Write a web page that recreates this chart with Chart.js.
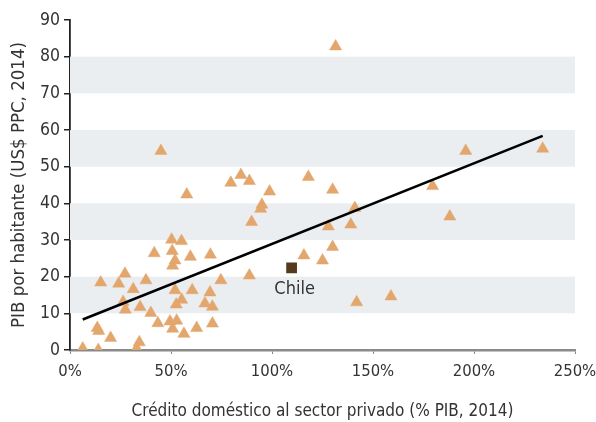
<!DOCTYPE html>
<html>
<head>
<meta charset="utf-8">
<script src="https://cdn.jsdelivr.net/npm/chart.js@4/dist/chart.umd.min.js"></script>
<style>
  html, body { margin: 0; padding: 0; background: #fff; }
  #wrap { width: 596px; height: 422px; position: relative; }
</style>
</head>
<body>
<div id="wrap"><canvas id="c" width="596" height="422"></canvas></div>
<script>
// Private-sector domestic credit (% of GDP, 2014) per country
const creditPct = [
  131.5, 45.0, 57.8, 79.6, 84.6, 88.8, 98.8, 95.0, 94.4, 89.9,
  118.0, 130.0, 141.0, 127.9, 139.0, 130.0, 115.8, 125.0, 88.8, 141.9,
  158.9, 179.5, 195.9, 234.0, 188.0, 50.3, 55.2, 41.7, 50.6, 52.0,
  50.8, 59.6, 69.5, 15.2, 27.2, 24.1, 37.6, 31.3, 26.3, 27.4,
  34.7, 40.0, 43.5, 52.0, 55.3, 52.6, 60.5, 69.3, 74.7, 66.8,
  70.5, 70.5, 62.7, 49.5, 52.8, 50.8, 56.4, 13.5, 14.2, 20.1,
  6.3, 14.0, 34.3, 33.0
];
// GDP per capita (thousand US$ PPP, 2014), same order
const gdpPerCapita = [
  82.8, 54.3, 42.4, 45.6, 47.7, 46.1, 43.2, 39.6, 38.5, 34.9,
  47.2, 43.7, 38.7, 33.7, 34.2, 28.1, 25.8, 24.4, 20.3, 13.0,
  14.6, 44.7, 54.3, 54.9, 36.4, 30.1, 29.7, 26.4, 27.0, 24.4,
  23.0, 25.4, 26.0, 18.4, 20.8, 18.1, 19.0, 16.6, 13.1, 11.0,
  11.7, 10.1, 7.3, 16.3, 13.7, 12.4, 16.3, 15.7, 19.0, 12.7,
  11.8, 7.2, 6.0, 7.8, 8.0, 5.8, 4.4, 6.0, 5.2, 3.3,
  0.4, 0.0, 2.1, 0.4
];
// Highlighted country
const chileName = 'Chile';
const chileCredit = 109.7;
const chileGdp = 22.4;
// Fitted trend line end points
const trendX = [6.3, 234.0];
const trendY = [8.3, 58.4];
// Axis ticks and shaded bands
const xTicks = [0, 50, 100, 150, 200, 250];
const yTicks = [0, 10, 20, 30, 40, 50, 60, 70, 80, 90];
const shadedBands = [[10, 20], [30, 40], [50, 60], [70, 80]];

const FONT = "'DejaVu Sans Condensed', 'Roboto', sans-serif";
const TEXT = '#333333';

const bandsPlugin = {
  id: 'bands',
  beforeDatasetsDraw(chart) {
    const { ctx, chartArea, scales } = chart;
    ctx.save();
    ctx.fillStyle = '#EBEEF1';
    shadedBands.forEach(([lo, hi]) => {
      const y1 = scales.y.getPixelForValue(hi);
      const y2 = scales.y.getPixelForValue(lo);
      ctx.fillRect(chartArea.left, y1, chartArea.right - chartArea.left, y2 - y1);
    });
    ctx.restore();
  }
};

const chileLabel = {
  id: 'chileLabel',
  afterDatasetsDraw(chart) {
    const { ctx, scales } = chart;
    const x = scales.x.getPixelForValue(chileCredit);
    const y = scales.y.getPixelForValue(chileGdp);
    ctx.save();
    ctx.font = '18px ' + FONT;
    ctx.fillStyle = TEXT;
    ctx.textAlign = 'center';
    ctx.textBaseline = 'middle';
    ctx.fillText(chileName, x + 3, y + 21);
    ctx.restore();
  }
};

new Chart(document.getElementById('c'), {
  type: 'scatter',
  data: {
    datasets: [
      {
        type: 'line',
        data: trendX.map((x, i) => ({ x, y: trendY[i] })),
        borderColor: '#000',
        borderWidth: 2.6,
        pointRadius: 0,
        fill: false,
        order: 0
      },
      {
        data: creditPct.map((x, i) => ({ x, y: gdpPerCapita[i] })),
        pointStyle: 'triangle',
        pointRadius: 7,
        backgroundColor: '#E3A66D',
        borderColor: '#E3A66D',
        borderWidth: 0.5,
        order: 1
      },
      {
        data: [{ x: chileCredit, y: chileGdp }],
        pointStyle: 'rect',
        pointRadius: 7.6,
        backgroundColor: '#563A1D',
        borderColor: '#563A1D',
        borderWidth: 0,
        order: 0
      }
    ]
  },
  options: {
    responsive: false,
    animation: false,
    devicePixelRatio: 1,
    layout: { padding: { top: 20, right: 21, left: 0, bottom: 0 } },
    plugins: { legend: { display: false }, tooltip: { enabled: false } },
    scales: {
      x: {
        type: 'linear',
        min: 0, max: 250,
        afterBuildTicks(scale) { scale.ticks = xTicks.map(v => ({ value: v })); },
        afterFit(scale) {
          scale.height = 72;
          scale.paddingLeft = 0;
          scale.paddingRight = 0;
        },
        grid: { display: true, drawOnChartArea: false, tickLength: 4, color: '#888', lineWidth: 1 },
        border: { display: true, color: '#8a8a8a', width: 2.5 },
        ticks: {
          callback: v => v + '%',
          color: TEXT,
          font: { family: FONT, size: 16.5 },
          padding: 8,
          maxRotation: 0
        },
        title: {
          display: true,
          text: 'Crédito doméstico al sector privado (% PIB, 2014)',
          color: TEXT,
          font: { family: FONT, size: 17 },
          padding: { top: 13, bottom: 0 }
        }
      },
      y: {
        type: 'linear',
        min: 0, max: 90,
        afterBuildTicks(scale) { scale.ticks = yTicks.map(v => ({ value: v })); },
        afterFit(scale) { scale.width = 70; },
        grid: { display: true, drawOnChartArea: false, tickLength: 6, color: '#222', lineWidth: 1.5 },
        border: { display: true, color: '#222', width: 1.8 },
        ticks: {
          color: TEXT,
          font: { family: FONT, size: 17.5 },
          padding: 4
        },
        title: {
          display: true,
          text: 'PIB por habitante (US$ PPC, 2014)',
          color: TEXT,
          font: { family: FONT, size: 18.5 },
          padding: { top: 8, bottom: 0 }
        }
      }
    }
  },
  plugins: [bandsPlugin, chileLabel]
});
</script>
</body>
</html>
